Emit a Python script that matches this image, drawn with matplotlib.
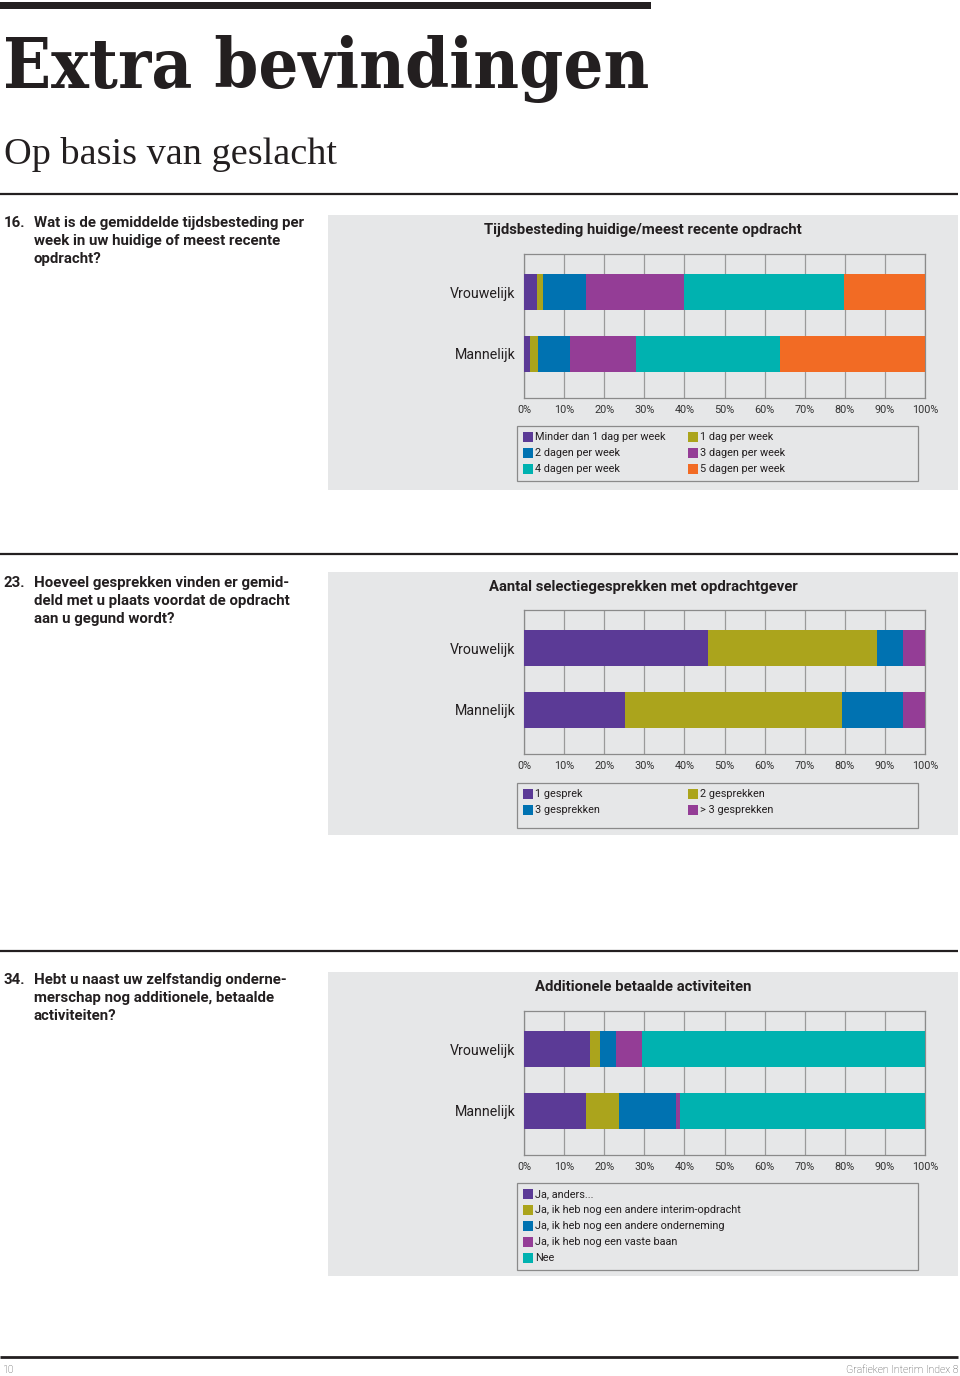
import numpy as np
import matplotlib
matplotlib.use("Agg")
import matplotlib.pyplot as plt
from matplotlib.patches import Rectangle

# --- data (percentages) ---
groups = ["Mannelijk", "Vrouwelijk"]

q16_labels = ["Minder dan 1 dag per week", "1 dag per week", "2 dagen per week",
              "3 dagen per week", "4 dagen per week", "5 dagen per week"]
q16_vrouw = [3.3, 1.5, 10.6, 24.5, 40.0, 20.1]
q16_man = [1.4, 2.1, 7.9, 16.6, 35.9, 36.1]

q23_labels = ["1 gesprek", "2 gesprekken", "3 gesprekken", "> 3 gesprekken"]
q23_vrouw = [45.9, 42.1, 6.4, 5.6]
q23_man = [25.2, 54.0, 15.2, 5.6]

q34_labels = ["Ja, anders...", "Ja, ik heb nog een andere interim-opdracht",
              "Ja, ik heb nog een andere onderneming", "Ja, ik heb nog een vaste baan", "Nee"]
q34_vrouw = [16.5, 2.5, 3.9, 6.5, 70.6]
q34_man = [15.5, 8.2, 14.3, 1.0, 61.0]

ticks = np.arange(0, 101, 10)
tick_labels = [f"{t}%" for t in ticks]

colors6 = ["#5b3a96", "#aba41c", "#0072b1", "#943d96", "#00b2b0", "#f26b24"]
colors4 = ["#5b3a96", "#aba41c", "#0072b1", "#943d96"]
colors5 = ["#5b3a96", "#aba41c", "#0072b1", "#943d96", "#00b2b0"]

W, H = 960, 1376
PANEL = "#e6e7e8"
DARK = "#231f20"
SANS = ["Roboto", "DejaVu Sans"]

fig = plt.figure(figsize=(W / 100, H / 100), dpi=100)
fig.patch.set_facecolor("white")

bg = fig.add_axes([0, 0, 1, 1])
bg.set_xlim(0, W)
bg.set_ylim(H, 0)
bg.axis("off")


def rect(x0, y0, x1, y1):
    return [x0 / W, 1 - y1 / H, (x1 - x0) / W, (y1 - y0) / H]


# header
bg.add_patch(Rectangle((0, 2), 651, 7, color=DARK, lw=0))
bg.text(3, 88, "Extra bevindingen", family=["DejaVu Serif"], fontweight="bold",
        fontstretch="condensed", fontsize=50.5, color=DARK, va="baseline", ha="left")
bg.text(4, 164, "Op basis van geslacht", family=["Liberation Serif", "DejaVu Serif"],
        fontsize=27.5, color=DARK, va="baseline", ha="left")


def section(rule_y, number, question, title, panel_top, panel_bot, ax_top,
            vrouw, man, labels, colors, legend_box, legend_cols):
    bg.plot([0, 958], [rule_y, rule_y], color=DARK, lw=1.6, solid_capstyle="butt")
    qy = rule_y + 33
    bg.text(4, qy, number, family=SANS, fontweight="bold", fontsize=10.8,
            color=DARK, va="baseline")
    for i, line in enumerate(question):
        bg.text(34, qy + i * 18, line, family=SANS, fontweight="bold", fontsize=10.8,
                color=DARK, va="baseline")
    bg.add_patch(Rectangle((328, panel_top), 630, panel_bot - panel_top, color=PANEL, lw=0))
    bg.text(643, panel_top + 19, title, family=SANS, fontweight="bold", fontsize=10.7,
            color=DARK, va="baseline", ha="center")

    ax = fig.add_axes(rect(524, ax_top, 925, ax_top + 144))
    ax.set_facecolor(PANEL)
    data = np.array([man, vrouw])
    left = np.zeros(2)
    for j in range(data.shape[1]):
        ax.barh([0, 1], data[:, j], left=left, height=0.585, color=colors[j],
                lw=0, zorder=3)
        left += data[:, j]
    ax.set_xlim(0, 100)
    ax.set_ylim(-0.72, 1.62)
    ax.set_xticks(ticks)
    ax.set_xticklabels(tick_labels, family=SANS, fontsize=7.8, color="#333333")
    ax.set_yticks([0, 1])
    ax.set_yticklabels(groups, family=SANS, fontsize=10.2, color=DARK)
    ax.tick_params(length=0, pad=5)
    ax.tick_params(axis="y", pad=6)
    ax.grid(axis="x", color="#9a9a9a", lw=0.9, zorder=1)
    for s in ax.spines.values():
        s.set_color("#8a8a8a")
        s.set_linewidth(0.9)

    lx0, ly0, lx1, ly1 = legend_box
    bg.add_patch(Rectangle((lx0, ly0), lx1 - lx0, ly1 - ly0, facecolor="none",
                           edgecolor="#8a8a8a", lw=0.9))
    for k, (lab, col) in enumerate(zip(labels, colors)):
        c = k % legend_cols
        r = k // legend_cols
        mx = lx0 + 6 + c * 165
        my = ly0 + 11 + r * 16
        bg.add_patch(Rectangle((mx, my - 5), 10, 10, color=col, lw=0))
        bg.text(mx + 12, my, lab, family=SANS, fontsize=7.8, color=DARK,
                va="center", ha="left")


section(194, "16.", ["Wat is de gemiddelde tijdsbesteding per",
                     "week in uw huidige of meest recente", "opdracht?"],
        "Tijdsbesteding huidige/meest recente opdracht", 215, 490, 254,
        q16_vrouw, q16_man, q16_labels, colors6, (517, 426, 918, 481), 2)

section(554, "23.", ["Hoeveel gesprekken vinden er gemid-",
                     "deld met u plaats voordat de opdracht", "aan u gegund wordt?"],
        "Aantal selectiegesprekken met opdrachtgever", 572, 835, 610,
        q23_vrouw, q23_man, q23_labels, colors4, (517, 783, 918, 828), 2)

section(951, "34.", ["Hebt u naast uw zelfstandig onderne-",
                     "merschap nog additionele, betaalde", "activiteiten?"],
        "Additionele betaalde activiteiten", 972, 1276, 1011,
        q34_vrouw, q34_man, q34_labels, colors5, (517, 1183, 918, 1270), 1)

# footer
bg.plot([0, 958], [1357, 1357], color=DARK, lw=2, solid_capstyle="butt")
bg.text(3, 1373, "10", family=SANS, fontweight="light", fontsize=7.5, color="#444444",
        va="baseline")
bg.text(958, 1373, "Grafieken Interim Index 8", family=SANS, fontweight="light",
        fontsize=7.5, color="#444444", va="baseline", ha="right")

fig.savefig("out.png", dpi=100, facecolor="white")
